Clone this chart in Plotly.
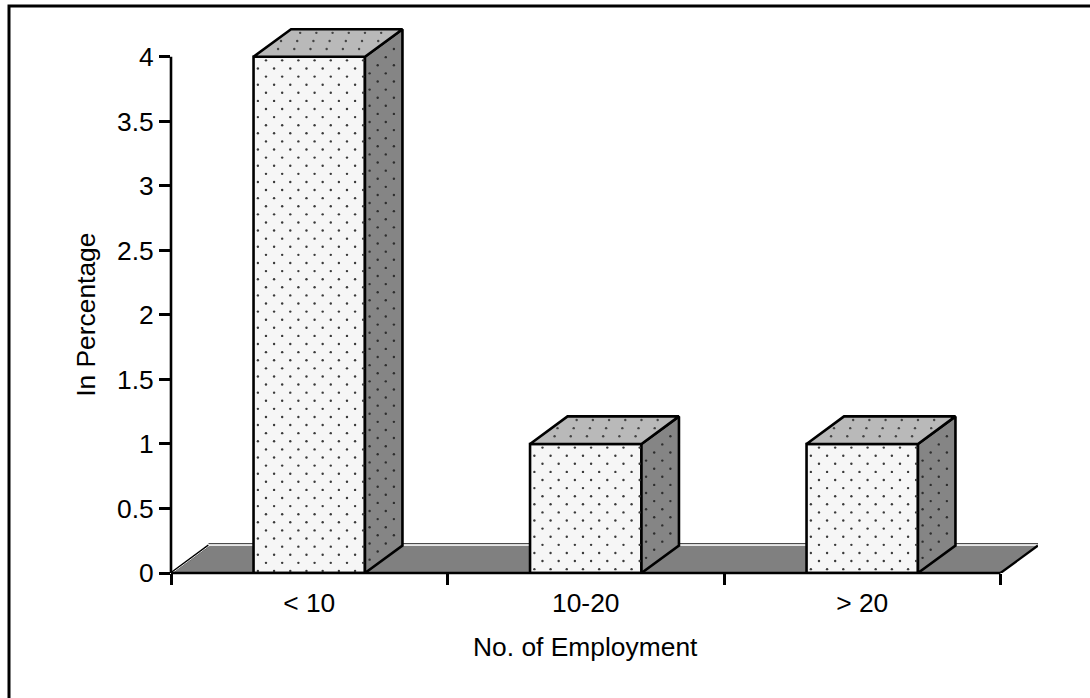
import numpy as np
import plotly.graph_objects as go

categories = ["< 10", "10-20", "> 20"]
percentages = [4, 1, 1]
y_tick_values = [0, 0.5, 1, 1.5, 2, 2.5, 3, 3.5, 4]
y_tick_labels = ["0", "0.5", "1", "1.5", "2", "2.5", "3", "3.5", "4"]
x_axis_title = "No. of Employment"
y_axis_title = "In Percentage"

FRONT = "#f6f6f6"
TOP = "#b9b9b9"
SIDE = "#858585"
FLOOR = "#808080"
INK = "#000000"
FONT = "Liberation Sans, Arial, sans-serif"
TEXT_SIZE = 26.4

# Pixel scale of the plotting area and the oblique offset of the 3-D look
PLOT_LEFT, PLOT_BOTTOM = 170.5, 573.0
PX_PER_CAT = 276.5
PX_PER_UNIT = 129.0
DEPTH_X = 37.5 / PX_PER_CAT
DEPTH_Y = 27.5 / PX_PER_UNIT
BAR_WIDTH = 0.403
Y_MAX = 4.3

x_max = 3.5 + DEPTH_X
plot_width = PX_PER_CAT * (x_max - 0.5)
plot_height = PX_PER_UNIT * Y_MAX
positions = [1, 2, 3]


def paper_x(px):
    return (px - PLOT_LEFT) / plot_width


def paper_y(px):
    return (PLOT_BOTTOM - px) / plot_height


fig = go.Figure()


def polygon(xs, ys, fill, line_color=INK, line_width=2.6):
    fig.add_trace(go.Scatter(
        x=xs, y=ys, mode="lines", fill="toself", fillcolor=fill,
        line=dict(color=line_color, width=line_width, shape="linear"),
        hoverinfo="skip", showlegend=False, cliponaxis=False,
    ))


def stipple(x0, x1, y0, y1, shear, color, keep=None, size=2.4, pitch_px=16.2, row_px=8.1):
    """Staggered dot texture across one face; shear skews it along the depth direction."""
    xs, ys = [], []
    row_step = row_px / PX_PER_UNIT
    col_step = pitch_px / PX_PER_CAT
    n_rows = int((y1 - y0) / row_step)
    for r in range(n_rows + 1):
        yy = y1 - row_step * (r + 0.45)
        if yy < y0:
            continue
        start = x0 + col_step * (0.2 if r % 2 else 0.7)
        for xx in np.arange(start, x1 - col_step * 0.1, col_step):
            px, py = xx + shear * (yy - y0), yy
            if keep is None or keep(px, py):
                xs.append(px)
                ys.append(py)
    fig.add_trace(go.Scatter(
        x=xs, y=ys, mode="markers",
        marker=dict(size=size, color=color, line=dict(width=0)),
        hoverinfo="skip", showlegend=False, cliponaxis=False,
    ))


def floor_edge(x0, y0, x1, y1, color, width):
    return dict(type="line", layer="below", xref="x", yref="y",
                x0=x0, y0=y0, x1=x1, y1=y1, line=dict(color=color, width=width))


# Floor slab behind the columns, with its light rim along the back edges
floor_path = (f"M 0.5 0 L 3.5 0 L {x_max} {DEPTH_Y} "
              f"L {0.5 + DEPTH_X} {DEPTH_Y} Z")
floor_shapes = [
    dict(type="path", layer="below", xref="x", yref="y", path=floor_path,
         fillcolor=FLOOR, line=dict(color=FLOOR, width=0.5)),
    floor_edge(0.5 + DEPTH_X, DEPTH_Y + 0.013, x_max, DEPTH_Y + 0.013, INK, 1.0),
    floor_edge(0.5 + DEPTH_X, DEPTH_Y + 0.003, x_max, DEPTH_Y + 0.003, "#ffffff", 1.2),
    floor_edge(0.5, 0, 0.5 + DEPTH_X, DEPTH_Y, INK, 2.2),
    floor_edge(0.504, 0, 0.504 + DEPTH_X, DEPTH_Y, "#ffffff", 0.9),
    floor_edge(3.5, 0, x_max, DEPTH_Y, INK, 2.4),
]

# Columns: front face from a bar trace, top and side faces share its values
fig.add_trace(go.Bar(
    x=positions, y=percentages, width=BAR_WIDTH,
    marker=dict(color=FRONT, line=dict(color=INK, width=2.6)),
    hoverinfo="skip", showlegend=False, cliponaxis=False,
))
fig.update_layout(barmode="overlay")

for pos, val in zip(positions, percentages):
    left, right = pos - BAR_WIDTH / 2, pos + BAR_WIDTH / 2
    polygon([right, right + DEPTH_X, right + DEPTH_X, right, right],
            [0, DEPTH_Y, val + DEPTH_Y, val, 0], SIDE)
    polygon([left, right, right + DEPTH_X, left + DEPTH_X, left],
            [val, val, val + DEPTH_Y, val + DEPTH_Y, val], TOP)
    stipple(left + 0.004, right, 0.01, val, 0, "#3a3a3a")
    stipple(left + 0.01, right, val, val + DEPTH_Y, DEPTH_X / DEPTH_Y, "#444444")

    # Only dots that fall inside the side parallelogram are kept
    def inside_side(px, py, right=right, val=val):
        rise = (px - right) / DEPTH_X * DEPTH_Y
        return rise + 0.04 < py < val + rise - 0.03

    stipple(right + 0.005, right + DEPTH_X, 0, val + DEPTH_Y, 0, "#2e2e2e", keep=inside_side)

# Axis lines stop at the last tick, so they are shapes rather than the axis' own line
axis_shapes = [
    dict(type="line", xref="x", yref="paper", x0=0.5, x1=3.5, y0=0, y1=0,
         line=dict(color=INK, width=2.6)),
    dict(type="line", xref="paper", yref="y", x0=0, x1=0, y0=0, y1=4,
         line=dict(color=INK, width=2.6)),
]

# Only the top and left sides of the outer frame fall inside the page
frame_path = (f"M {paper_x(8.5)} {paper_y(700)} L {paper_x(8.5)} {paper_y(6.3)} "
              f"L {paper_x(1092)} {paper_y(6.3)}")

fig.update_layout(
    width=1090,
    height=698,
    margin=dict(l=PLOT_LEFT, r=1090 - PLOT_LEFT - plot_width,
                t=PLOT_BOTTOM - plot_height, b=698 - PLOT_BOTTOM, autoexpand=False),
    paper_bgcolor="#ffffff",
    plot_bgcolor="rgba(0,0,0,0)",
    font=dict(family=FONT, size=TEXT_SIZE, color=INK),
    xaxis=dict(
        range=[0.5, x_max], showgrid=False, zeroline=False, showline=False,
        tickmode="array", tickvals=positions, ticktext=categories,
        tickfont=dict(size=TEXT_SIZE), ticks="", ticklabelstandoff=12,
        minor=dict(tickmode="array", tickvals=[0.5, 1.5, 2.5, 3.5], ticks="outside",
                   ticklen=11, tickwidth=2.5, tickcolor=INK, showgrid=False),
        automargin=False,
    ),
    yaxis=dict(
        range=[0, Y_MAX], showgrid=False, zeroline=False, showline=False,
        tickmode="array", tickvals=y_tick_values, ticktext=y_tick_labels,
        tickfont=dict(size=TEXT_SIZE), ticks="outside", ticklen=11, tickwidth=2.5,
        tickcolor=INK, automargin=False,
    ),
    shapes=floor_shapes + axis_shapes + [
        dict(type="path", xref="paper", yref="paper", layer="below", path=frame_path,
             line=dict(color=INK, width=3))],
    annotations=[
        dict(text=x_axis_title, xref="x", yref="paper", x=2, y=paper_y(647),
             xanchor="center", yanchor="middle", showarrow=False,
             font=dict(size=TEXT_SIZE)),
        dict(text=y_axis_title, xref="paper", yref="y", x=paper_x(85.5), y=2,
             xanchor="center", yanchor="middle", textangle=-90, showarrow=False,
             font=dict(size=TEXT_SIZE)),
    ],
)

fig.write_html("out.html", config={"displayModeBar": False})
